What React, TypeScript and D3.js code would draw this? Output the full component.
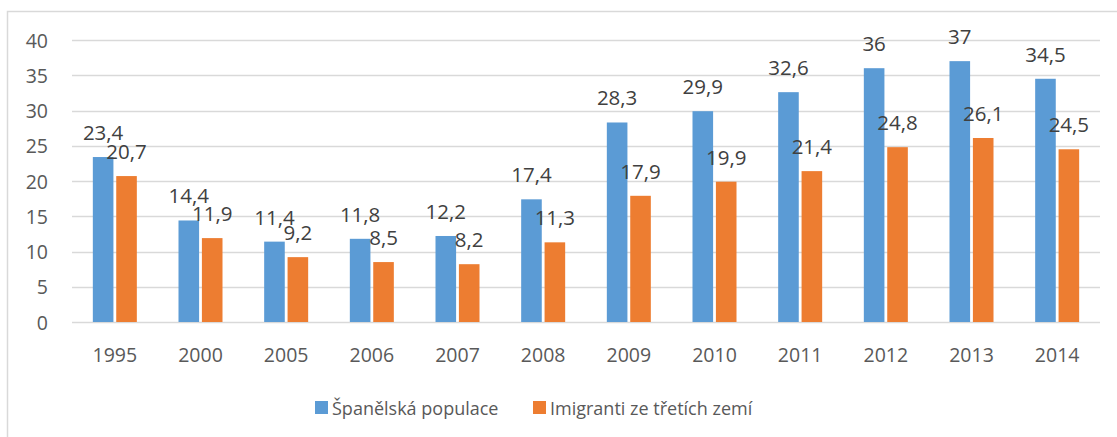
import { useEffect, useRef } from "react";
import * as d3 from "d3";

const YEARS = ["1995", "2000", "2005", "2006", "2007", "2008", "2009", "2010", "2011", "2012", "2013", "2014"];
const SPANISH = [23.4, 14.4, 11.4, 11.8, 12.2, 17.4, 28.3, 29.9, 32.6, 36, 37, 34.5];
const IMMIGRANTS = [20.7, 11.9, 9.2, 8.5, 8.2, 11.3, 17.9, 19.9, 21.4, 24.8, 26.1, 24.5];
const Y_TICKS = [0, 5, 10, 15, 20, 25, 30, 35, 40];

const SERIES = [
  { key: "es", label: "Španělská populace", color: "#5B9BD5", values: SPANISH },
  { key: "im", label: "Imigranti ze třetích zemí", color: "#ED7D31", values: IMMIGRANTS },
];

const FONT = "'Open Sans', 'Liberation Sans', sans-serif";

export default function App() {
  const svgRef = useRef<SVGSVGElement | null>(null);

  useEffect(() => {
    if (!svgRef.current) return;
    const W = 1117;
    const H = 437;
    const left = 72, right = 1100, top = 40, bottom = 322;

    const svg = d3.select(svgRef.current);
    svg.selectAll("*").remove();
    svg.attr("width", W).attr("height", H);

    // chart frame (only top/left visible in the crop)
    svg.append("rect")
      .attr("x", 7.5).attr("y", 11.5)
      .attr("width", 1300).attr("height", 600)
      .attr("fill", "#fff").attr("stroke", "#D9D9D9").attr("stroke-width", 1.5);

    const y = d3.scaleLinear().domain([0, 40]).range([bottom, top]);
    const p = 1 - 44 / ((right - left) / YEARS.length);
    const x0 = d3.scaleBand().domain(YEARS).range([left, right]).paddingInner(p).paddingOuter(p / 2);
    const x1 = d3.scaleBand().domain(SERIES.map(s => s.key)).range([0, x0.bandwidth()]).paddingInner(0.12);

    // Grid
    svg.append("g").selectAll("line").data(Y_TICKS).join("line")
      .attr("x1", left).attr("x2", right)
      .attr("y1", d => Math.round(y(d)) + 0.5).attr("y2", d => Math.round(y(d)) + 0.5)
      .attr("stroke", "#D9D9D9").attr("stroke-width", 1.3);

    // Y tick labels
    svg.append("g").selectAll("text").data(Y_TICKS).join("text")
      .attr("x", 48).attr("y", d => y(d))
      .attr("text-anchor", "end").attr("dominant-baseline", "central")
      .attr("font-family", FONT).attr("font-size", 19.5).attr("fill", "#595959")
      .text(d => d);

    // Bars + labels
    SERIES.forEach(s => {
      const g = svg.append("g");
      g.selectAll("rect").data(s.values).join("rect")
        .attr("x", (_, i) => (x0(YEARS[i]) ?? 0) + (x1(s.key) ?? 0))
        .attr("y", d => y(d))
        .attr("width", x1.bandwidth())
        .attr("height", d => bottom - y(d))
        .attr("fill", s.color);

      g.selectAll("text").data(s.values).join("text")
        .attr("x", (_, i) => (x0(YEARS[i]) ?? 0) + (x1(s.key) ?? 0) + x1.bandwidth() / 2)
        .attr("y", d => y(d) - 25)
        .attr("text-anchor", "middle").attr("dominant-baseline", "central")
        .attr("font-family", FONT).attr("font-size", 20.5).attr("fill", "#404040")
        .text(d => String(d).replace(".", ","));
    });

    // X labels
    svg.append("g").selectAll("text").data(YEARS).join("text")
      .attr("x", d => (x0(d) ?? 0) + x0.bandwidth() / 2)
      .attr("y", 354)
      .attr("text-anchor", "middle").attr("dominant-baseline", "central")
      .attr("font-family", FONT).attr("font-size", 19.5).attr("fill", "#595959")
      .text(d => d);

    // Legend
    const legendX = [315, 533];
    SERIES.forEach((s, i) => {
      svg.append("rect")
        .attr("x", legendX[i]).attr("y", 401)
        .attr("width", 13).attr("height", 13)
        .attr("fill", s.color);
      svg.append("text")
        .attr("x", legendX[i] + 17).attr("y", 407.5)
        .attr("dominant-baseline", "central")
        .attr("font-family", FONT).attr("font-size", 18).attr("fill", "#595959")
        .text(s.label);
    });
  }, []);

  return (
    <svg ref={svgRef} style={{ position: "absolute", left: 0, top: 0, display: "block" }} />
  );
}
